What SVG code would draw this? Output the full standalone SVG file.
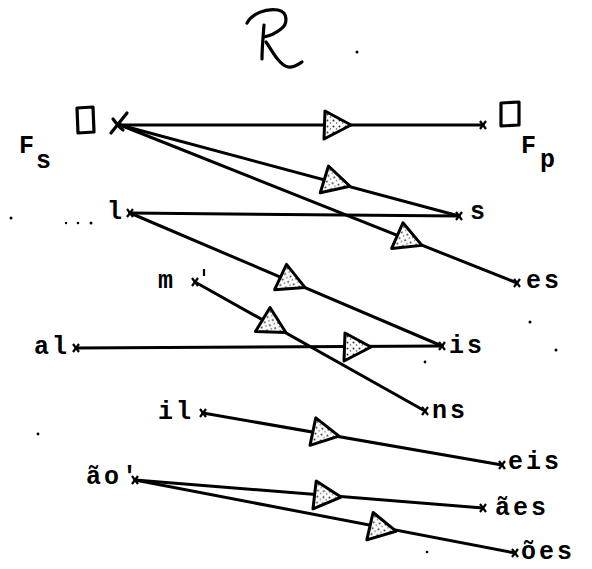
<svg xmlns="http://www.w3.org/2000/svg" xmlns:xlink="http://www.w3.org/1999/xlink" width="592" height="569" viewBox="0 0 592 569">
<defs>
<style>
.t{font-family:"Liberation Mono","Courier New",monospace;font-weight:bold;font-size:25px;letter-spacing:3px;fill:#000}
.ln{stroke:#000;stroke-width:3;fill:none;stroke-linecap:round}
.hand{stroke:#000;stroke-width:3.2;fill:none;stroke-linecap:round;stroke-linejoin:round}
.xm{stroke:#000;stroke-width:2.2;fill:none}
.tri{fill:url(#dots);stroke:#000;stroke-width:3;stroke-linejoin:round}
.dot{fill:#000}
</style>
<pattern id="dots" width="6" height="6" patternUnits="userSpaceOnUse">
<rect width="6" height="6" fill="#fff"/>
<circle cx="1.5" cy="1.5" r="1" fill="#333"/>
<circle cx="4.5" cy="4" r="0.8" fill="#555"/>
</pattern>
<path id="tri" d="M1,0 L-25,-14 L-26,14 Z"/>
<path id="xm" d="M-3,-4 L3,4 M3,-4 L-3,4"/>
</defs>
<rect width="592" height="569" fill="#fff"/>

<g id="title">
<path class="hand" d="M247,23 C252,14 265,8 278,10 C288,12 288,24 281,29 C276,33 269,36 264,37"/>
<path class="hand" d="M264,25 C263,38 262,48 262,59"/>
<path class="hand" d="M266,42 C272,50 278,64 288,67 C294,68 299,64 302,62"/>
</g>

<g id="connectors">
<line class="ln" x1="120" y1="125" x2="483" y2="125"/>
<line class="ln" x1="120" y1="125" x2="459" y2="216"/>
<line class="ln" x1="120" y1="125" x2="517" y2="283"/>
<line class="ln" x1="130" y1="213" x2="459" y2="216"/>
<line class="ln" x1="130" y1="213" x2="442" y2="346"/>
<line class="ln" x1="195" y1="282" x2="425" y2="411"/>
<line class="ln" x1="76" y1="348" x2="442" y2="346"/>
<line class="ln" x1="203" y1="413" x2="502" y2="465"/>
<line class="ln" x1="135" y1="480" x2="483" y2="508"/>
<line class="ln" x1="135" y1="480" x2="515" y2="553"/>
<use class="tri" xlink:href="#tri" transform="translate(350,125)"/>
<use class="tri" xlink:href="#tri" transform="translate(349,186) rotate(15)"/>
<use class="tri" xlink:href="#tri" transform="translate(421,245) rotate(21.7)"/>
<use class="tri" xlink:href="#tri" transform="translate(304,287) rotate(23.1)"/>
<use class="tri" xlink:href="#tri" transform="translate(285,332) rotate(29.3)"/>
<use class="tri" xlink:href="#tri" transform="translate(370,347)"/>
<use class="tri" xlink:href="#tri" transform="translate(338,436) rotate(9.9)"/>
<use class="tri" xlink:href="#tri" transform="translate(340,497) rotate(4.6)"/>
<use class="tri" xlink:href="#tri" transform="translate(395,531) rotate(10.9)"/>
</g>

<g id="Fs">
<path class="hand" d="M77,108 L93,107 L94,132 L78,133 Z" stroke-width="2.6"/>
<path class="hand" d="M111,133 L127,113 M113,119 C116,123 119,127 123,130"/>
<text class="t" x="19" y="153">F</text>
<text class="t" x="36" y="168">s</text>
</g>
<g id="Fp">
<use class="xm" xlink:href="#xm" x="483" y="125"/>
<path class="hand" d="M501,103 L519,102 L519,125 L501,126 Z" stroke-width="2.6"/>
<text class="t" x="521" y="153">F</text>
<text class="t" x="540" y="167">p</text>
</g>
<g id="n_l"><text class="t" x="107" y="219">l</text><use class="xm" xlink:href="#xm" x="130" y="213"/></g>
<g id="n_s"><use class="xm" xlink:href="#xm" x="459" y="216"/><text class="t" x="470" y="219">s</text></g>
<g id="n_es"><use class="xm" xlink:href="#xm" x="517" y="283"/><text class="t" x="526" y="288">es</text></g>
<g id="n_m"><text class="t" x="158" y="288">m</text><use class="xm" xlink:href="#xm" x="195" y="282"/><line class="xm" x1="204" y1="269" x2="204" y2="276"/></g>
<g id="n_al"><text class="t" x="34" y="354">al</text><use class="xm" xlink:href="#xm" x="76" y="348"/></g>
<g id="n_is"><use class="xm" xlink:href="#xm" x="442" y="346"/><text class="t" x="449" y="353">is</text></g>
<g id="n_ns"><use class="xm" xlink:href="#xm" x="425" y="411"/><text class="t" x="432" y="418">ns</text></g>
<g id="n_il"><text class="t" x="158" y="419">il</text><use class="xm" xlink:href="#xm" x="203" y="413"/></g>
<g id="n_eis"><use class="xm" xlink:href="#xm" x="502" y="465"/><text class="t" x="508" y="469">eis</text></g>
<g id="n_ao"><text class="t" x="86" y="484">ão'</text><use class="xm" xlink:href="#xm" x="135" y="480"/></g>
<g id="n_aes"><use class="xm" xlink:href="#xm" x="483" y="508"/><text class="t" x="495" y="515">ães</text></g>
<g id="n_oes"><use class="xm" xlink:href="#xm" x="515" y="553"/><text class="t" x="521" y="559">ões</text></g>

<g id="specks">
<circle class="dot" cx="357" cy="52" r="1.5"/>
<circle class="dot" cx="11" cy="218" r="1.5"/>
<circle class="dot" cx="66" cy="223" r="1.2"/>
<circle class="dot" cx="78" cy="223" r="1.3"/>
<circle class="dot" cx="91" cy="223" r="1.5"/>
<circle class="dot" cx="530" cy="322" r="1.5"/>
<circle class="dot" cx="556" cy="350" r="1.5"/>
<circle class="dot" cx="425" cy="362" r="1.4"/>
<circle class="dot" cx="38" cy="434" r="1.4"/>
<circle class="dot" cx="427" cy="552" r="1.3"/>
</g>
</svg>
